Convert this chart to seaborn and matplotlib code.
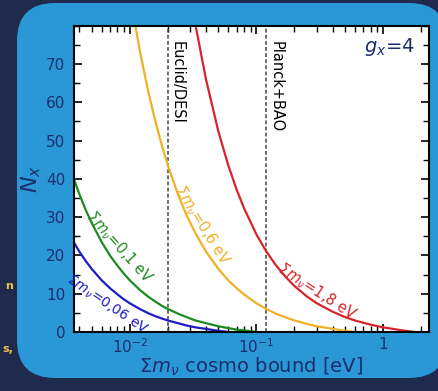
import numpy as np
import pandas as pd
import matplotlib.pyplot as plt
import seaborn as sns
from matplotlib.patches import FancyBboxPatch
from matplotlib.ticker import FixedLocator, FixedFormatter, LogLocator, MultipleLocator, NullFormatter

nan = np.nan

# cosmological bound on the neutrino mass sum [eV]
bound_ev = [0.0036, 0.004, 0.0045, 0.005, 0.006, 0.007, 0.008, 0.009, 0.01, 0.012,
            0.014, 0.016, 0.018, 0.02, 0.024, 0.028, 0.033, 0.04, 0.05, 0.06,
            0.07, 0.08, 0.1, 0.12, 0.14, 0.17, 0.2, 0.25, 0.3, 0.4,
            0.5, 0.6, 0.8, 1.0, 1.2, 1.5, 1.8, 2.3]

# N_x for each true sum of neutrino masses
n_006 = [23.5, 21.0, 18.5, 16.5, 13.5, 11.4, 9.8, 8.5, 7.5, 6.0,
         4.9, 4.1, 3.5, 3.0, 2.3, 1.7, 1.2, 0.8, 0.3, 0.0,
         nan, nan, nan, nan, nan, nan, nan, nan, nan, nan,
         nan, nan, nan, nan, nan, nan, nan, nan]
n_01 = [40.2, 36.0, 31.8, 28.5, 23.5, 19.9, 17.3, 15.2, 13.5, 11.0,
        9.2, 7.9, 6.8, 6.0, 4.8, 3.9, 3.0, 2.3, 1.5, 1.0,
        0.6, 0.4, 0.0, nan, nan, nan, nan, nan, nan, nan,
        nan, nan, nan, nan, nan, nan, nan, nan]
n_06 = [nan, nan, nan, nan, nan, nan, nan, nan, 88.5, 73.5,
        62.8, 54.8, 48.5, 43.5, 36.0, 30.6, 25.8, 21.0, 16.5, 13.5,
        11.4, 9.8, 7.5, 6.0, 4.9, 3.8, 3.0, 2.1, 1.5, 0.8,
        0.3, 0.0, nan, nan, nan, nan, nan, nan]
n_18 = [nan, nan, nan, nan, nan, nan, nan, nan, nan, nan,
        nan, nan, nan, nan, nan, 94.9, 80.3, 66.0, 52.5, 43.5,
        37.1, 32.3, 25.5, 21.0, 17.8, 14.4, 12.0, 9.3, 7.5, 5.3,
        3.9, 3.0, 1.9, 1.2, 0.8, 0.3, 0.0, nan]

series_names = ["0,06", "0,1", "0,6", "1,8"]
colors = ["#1d1dc4", "#1f8a22", "#f0b027", "#d8232a"]

bounds_lines = [0.02, 0.12]
bounds_labels = ["Euclid/DESI", "Planck+BAO"]

df = pd.DataFrame({"bound": bound_ev, "0,06": n_006, "0,1": n_01,
                   "0,6": n_06, "1,8": n_18})
long = df.melt(id_vars="bound", var_name="sum_mnu", value_name="N").dropna()

sns.set_style("ticks")
plt.rcParams["font.family"] = ["DejaVu Sans"]
navy = "#1b2f6c"

fig = plt.figure(figsize=(4.38, 3.91), dpi=100)
fig.patch.set_facecolor("#1f2a4c")
box = FancyBboxPatch((0.17, 0.13), 4.30, 3.75, boxstyle="round,pad=0,rounding_size=0.38",
                     transform=fig.dpi_scale_trans, facecolor="#2a98d6", edgecolor="none",
                     zorder=-10)
fig.patches.append(box)
fig.text(0.012, 0.26, "n", color="#f0c24a", fontsize=8, fontweight="bold")
fig.text(0.005, 0.10, "s,", color="#f0c24a", fontsize=8, fontweight="bold")

ax = fig.add_axes([0.168, 0.151, 0.811, 0.783])
ax.set_zorder(2)
ax.set_facecolor("white")

sns.lineplot(data=long, x="bound", y="N", hue="sum_mnu", hue_order=series_names,
             palette=colors, linewidth=1.6, legend=False, ax=ax, errorbar=None)

ax.set_xscale("log")
ax.set_xlim(0.0036, 2.3)
ax.set_ylim(0, 80)

for xb, lab in zip(bounds_lines, bounds_labels):
    ax.axvline(xb, color="#444444", ls=(0, (2.5, 1.5)), lw=1.1, zorder=1)
    ax.text(xb * 1.04, 76, lab, rotation=-90, va="top", ha="left",
            fontsize=10.5, color="black")

# curve labels
label_pos = [(0.0066, 7.0, -34), (0.0082, 22.2, -48), (0.037, 27.9, -58), (0.30, 10.6, -33)]
label_size = [10, 10.5, 10.5, 10.5]
for name, c, (xl, yl, rot), fs in zip(series_names, colors, label_pos, label_size):
    ax.text(xl, yl, r"$\Sigma m_\nu$=" + name + " eV", color=c, fontsize=fs,
            rotation=rot, ha="center", va="center", rotation_mode="anchor")

ax.text(0.96, 0.93, r"$g_x$=4", transform=ax.transAxes, ha="right", va="center",
        fontsize=14, color=navy)

ax.xaxis.set_major_locator(FixedLocator([0.01, 0.1, 1]))
ax.xaxis.set_major_formatter(FixedFormatter([r"$10^{-2}$", r"$10^{-1}$", "1"]))
ax.xaxis.set_minor_locator(LogLocator(base=10, subs=np.arange(2, 10), numticks=20))
ax.xaxis.set_minor_formatter(NullFormatter())
ax.yaxis.set_major_locator(MultipleLocator(10))
ax.yaxis.set_minor_locator(MultipleLocator(5))
ax.set_yticks(range(0, 80, 10))

ax.tick_params(which="both", direction="in", top=True, right=True, color="black",
               labelcolor=navy, labelsize=11)
ax.tick_params(axis="y", which="major", pad=6)
ax.tick_params(which="major", length=6, width=1.2)
ax.tick_params(which="minor", length=4, width=1.0)
for s in ax.spines.values():
    s.set_linewidth(1.5)
    s.set_color("black")

ax.set_xlabel(r"$\Sigma m_\nu$ cosmo bound [eV]", fontsize=14, color=navy, labelpad=0)
ax.set_ylabel(r"$N_x$", fontsize=16, color=navy, labelpad=2)

fig.savefig("out.png", dpi=100, facecolor=fig.get_facecolor())
